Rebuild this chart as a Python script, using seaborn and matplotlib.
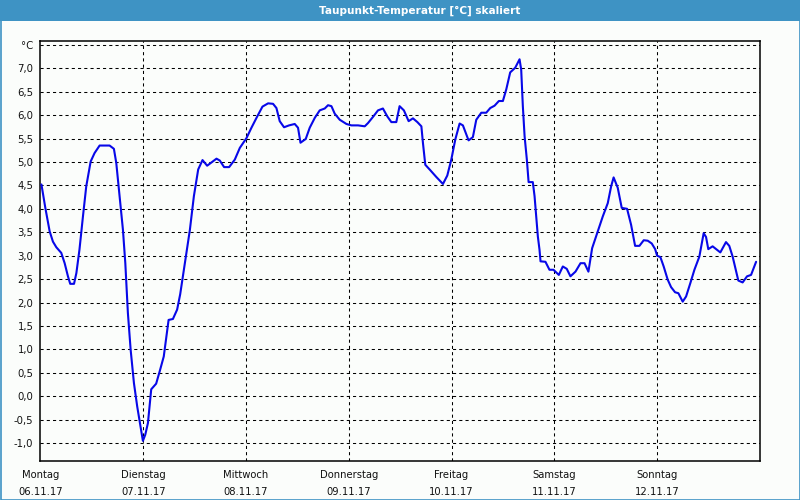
import matplotlib
matplotlib.use("Agg")
import matplotlib.pyplot as plt
from matplotlib.patches import Rectangle
import numpy as np
import pandas as pd
import seaborn as sns

# ---- data (time in days since Monday 06.11.17 00:00, dew point in °C) ----
days = [0.01, 0.048, 0.09, 0.122, 0.155, 0.203, 0.236, 0.268, 0.29, 0.327, 0.35, 0.38,
        0.414, 0.446, 0.489, 0.527, 0.576, 0.673, 0.715, 0.738, 0.77, 0.803, 0.826, 0.851,
        0.878, 0.91, 0.942, 0.975, 0.997, 1.02, 1.046, 1.078, 1.126, 1.16, 1.20, 1.247,
        1.289, 1.33, 1.36, 1.405, 1.454, 1.493, 1.535, 1.577, 1.622, 1.665, 1.713, 1.745,
        1.787, 1.836, 1.891, 1.94, 2.005, 2.053, 2.102, 2.16, 2.215, 2.263, 2.296, 2.328,
        2.37, 2.419, 2.474, 2.506, 2.53, 2.581, 2.62, 2.669, 2.717, 2.766, 2.798, 2.831,
        2.863, 2.912, 2.977, 3.025, 3.09, 3.155, 3.187, 3.235, 3.284, 3.332, 3.375, 3.414,
        3.462, 3.494, 3.536, 3.582, 3.624, 3.667, 3.706, 3.721, 3.744, 3.786, 3.851, 3.916,
        3.958, 3.997, 4.036, 4.078, 4.11, 4.165, 4.207, 4.24, 4.289, 4.337, 4.376, 4.418,
        4.46, 4.499, 4.532, 4.57, 4.619, 4.661, 4.677, 4.693, 4.71, 4.732, 4.749, 4.79,
        4.807, 4.823, 4.839, 4.855, 4.865, 4.913, 4.952, 4.991, 5.043, 5.082, 5.12, 5.156,
        5.205, 5.254, 5.293, 5.331, 5.367, 5.422, 5.471, 5.519, 5.552, 5.576, 5.616, 5.655,
        5.707, 5.746, 5.785, 5.827, 5.869, 5.908, 5.947, 5.98, 5.999, 6.031, 6.063, 6.102,
        6.135, 6.174, 6.206, 6.248, 6.281, 6.323, 6.362, 6.41, 6.452, 6.475, 6.497, 6.539,
        6.614, 6.669, 6.701, 6.734, 6.789, 6.831, 6.874, 6.913, 6.962]
dewpoint = [4.52, 4.02, 3.52, 3.30, 3.18, 3.06, 2.84, 2.56, 2.40, 2.40, 2.63, 3.13,
            3.84, 4.48, 5.01, 5.19, 5.35, 5.35, 5.28, 4.98, 4.27, 3.55, 2.84, 1.78,
            0.99, 0.28, -0.22, -0.65, -0.95, -0.82, -0.57, 0.15, 0.27, 0.53, 0.85, 1.63,
            1.65, 1.85, 2.18, 2.84, 3.55, 4.27, 4.84, 5.04, 4.92, 4.99, 5.07, 5.03,
            4.89, 4.89, 5.05, 5.30, 5.51, 5.73, 5.94, 6.18, 6.25, 6.24, 6.15, 5.87,
            5.74, 5.78, 5.81, 5.73, 5.41, 5.49, 5.73, 5.94, 6.10, 6.14, 6.21, 6.19,
            6.03, 5.90, 5.81, 5.78, 5.78, 5.76, 5.83, 5.96, 6.10, 6.14, 5.97, 5.85,
            5.85, 6.19, 6.10, 5.87, 5.93, 5.85, 5.76, 5.41, 4.94, 4.84, 4.68, 4.53,
            4.71, 5.05, 5.48, 5.82, 5.78, 5.46, 5.53, 5.90, 6.05, 6.05, 6.15, 6.20,
            6.30, 6.30, 6.55, 6.91, 7.01, 7.19, 6.97, 6.19, 5.55, 5.05, 4.57, 4.57,
            4.27, 3.84, 3.41, 3.13, 2.88, 2.87, 2.70, 2.70, 2.59, 2.77, 2.72, 2.56,
            2.66, 2.84, 2.84, 2.66, 3.16, 3.52, 3.84, 4.12, 4.48, 4.67, 4.45, 4.02,
            4.00, 3.66, 3.21, 3.21, 3.33, 3.32, 3.26, 3.14, 3.00, 2.97, 2.77, 2.49,
            2.33, 2.22, 2.20, 2.02, 2.13, 2.42, 2.70, 2.98, 3.48, 3.40, 3.14, 3.20,
            3.07, 3.29, 3.21, 2.98, 2.47, 2.43, 2.56, 2.59, 2.87]

day_names = ["Montag", "Dienstag", "Mittwoch", "Donnerstag", "Freitag", "Samstag", "Sonntag"]
dates = ["06.11.17", "07.11.17", "08.11.17", "09.11.17", "10.11.17", "11.11.17", "12.11.17"]
y_ticks = [-1.0, -0.5, 0.0, 0.5, 1.0, 1.5, 2.0, 2.5, 3.0, 3.5, 4.0, 4.5, 5.0, 5.5, 6.0, 6.5, 7.0, 7.5]
title = "Taupunkt-Temperatur [°C] skaliert"

df = pd.DataFrame({"Tag": days, "Taupunkt": dewpoint})

sns.set_style("white")
plt.rcParams["font.family"] = ["DejaVu Sans"]

bg = "#fbfdfb"
bar_col = "#3e93c4"

fig = plt.figure(figsize=(8, 5), dpi=100, facecolor=bg)
ax = fig.add_axes([40.4 / 800, 39.3 / 500, (760 - 40.4) / 800, (460.7 - 41) / 500])
ax.set_facecolor(bg)

sns.lineplot(data=df, x="Tag", y="Taupunkt", ax=ax, color="#0808e8",
             linewidth=1.5, estimator=None, sort=False, zorder=3)

ax.set_xlim(0, 7)
ax.set_ylim(-1.373, 7.58)

ax.set_xticks(range(len(day_names)))
ax.set_xticklabels([f"{d}\n{t}" for d, t in zip(day_names, dates)],
                   fontsize=7.2, linespacing=1.8, color="#111111")
ax.set_yticks(y_ticks)
ylabels = [f"{v:.1f}".replace(".", ",") for v in y_ticks[:-1]] + ["°C"]
ax.set_yticklabels(ylabels, fontsize=7.3, color="#111111")

ax.tick_params(axis="x", direction="out", length=3, width=1, color="black", pad=4)
ax.tick_params(axis="y", length=0, pad=5)

for v in y_ticks:
    ax.axhline(v, color="black", linewidth=0.75, linestyle=(0, (3, 3)), zorder=1)
for d in range(1, 7):
    ax.axvline(d, color="black", linewidth=0.75, linestyle=(0, (3, 3)), zorder=1)

for s in ax.spines.values():
    s.set_color("black")
    s.set_linewidth(1.1)
    s.set_visible(True)

ax.set_xlabel("")
ax.set_ylabel("")

# title bar and outer frame
fig.patches.append(Rectangle((0, 1 - 21 / 500), 1, 21 / 500, transform=fig.transFigure,
                             facecolor=bar_col, edgecolor="none", zorder=0))
fig.patches.append(Rectangle((0.5 / 800, 0.5 / 500), 799 / 800, 499 / 500, transform=fig.transFigure,
                             facecolor="none", edgecolor=bar_col, linewidth=1.2, zorder=5))
fig.text(420 / 800, 1 - 10.5 / 500, title, color="white", fontsize=7.6, fontweight="bold",
         ha="center", va="center")

fig.savefig("out.png", dpi=100, facecolor=bg)
